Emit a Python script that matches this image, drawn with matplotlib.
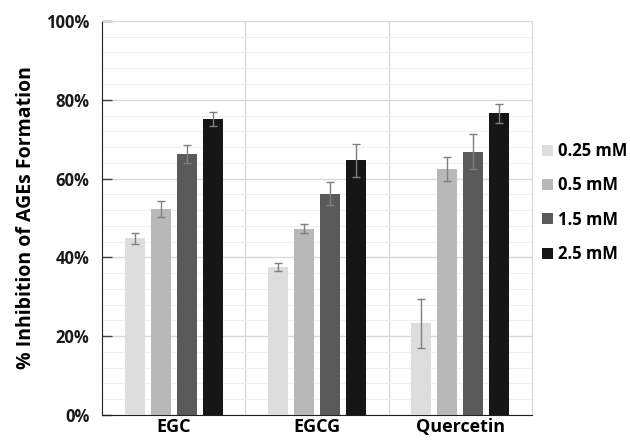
import matplotlib
matplotlib.use("Agg")
import matplotlib.pyplot as plt
import numpy as np
from matplotlib.ticker import MultipleLocator, FuncFormatter
from matplotlib.patches import Patch

categories = ["EGC", "EGCG", "Quercetin"]
series = ["0.25 mM", "0.5 mM", "1.5 mM", "2.5 mM"]
values = {
    "0.25 mM": [44.8, 37.6, 23.3],
    "0.5 mM": [52.2, 47.3, 62.4],
    "1.5 mM": [66.2, 56.2, 66.8],
    "2.5 mM": [75.1, 64.6, 76.6],
}
errors = {
    "0.25 mM": [1.4, 1.1, 6.2],
    "0.5 mM": [2.0, 1.2, 3.1],
    "1.5 mM": [2.3, 2.9, 4.4],
    "2.5 mM": [1.7, 4.2, 2.4],
}
colors = ["#dcdddc", "#b8b8b8", "#5a5a5a", "#161616"]

plt.rcParams['font.family'] = ['Open Sans', 'DejaVu Sans']
fig = plt.figure(figsize=(6.3, 4.46), dpi=100)
ax = fig.add_axes([0.162, 0.0695, 0.682, 0.8835])

x = np.arange(len(categories))
width = 0.14
pitch = 0.182
for i, s in enumerate(series):
    off = (i - 1.5) * pitch
    ax.bar(x + off, values[s], width, color=colors[i], zorder=3, label=s)
    ax.errorbar(x + off, values[s], yerr=errors[s], fmt='none', ecolor='#7f7f7f',
                elinewidth=1.0, capsize=3, capthick=1.0, zorder=4)

ax.set_xlim(-0.5, 2.5)
ax.set_ylim(0, 100)
ax.yaxis.set_major_locator(MultipleLocator(20))
ax.yaxis.set_minor_locator(MultipleLocator(4))
ax.yaxis.set_major_formatter(FuncFormatter(lambda v, p: f"{int(v)}%"))
ax.grid(axis='y', which='major', color='#d9d9d9', linewidth=1.0, zorder=0)
ax.grid(axis='y', which='minor', color='#f0f0f0', linewidth=0.8, zorder=0)
for b in [0.5, 1.5]:
    ax.axvline(b, color='#d9d9d9', linewidth=1.0, zorder=0)
ax.set_xticks(x)
ax.set_xticklabels(categories, fontsize=13, fontweight='bold')
ax.tick_params(axis='x', length=0, pad=2)
ax.tick_params(axis='y', which='major', direction='in', length=7, width=1.0, colors='#404040',
               labelcolor='#1a1a1a', labelsize=12, pad=9)
ax.tick_params(axis='y', which='minor', length=0)
for lbl in ax.get_yticklabels():
    lbl.set_fontweight('bold')
ax.spines['left'].set_color('#202020')
ax.spines['bottom'].set_color('#202020')
ax.spines['top'].set_color('#d9d9d9')
ax.spines['right'].set_color('#d9d9d9')
ax.set_ylabel("% Inhibition of AGEs Formation", fontsize=14, fontweight='bold', labelpad=7)

handles = [Patch(facecolor=c, edgecolor='none') for c in colors]
leg = fig.legend(handles, series, loc='center left', bbox_to_anchor=(0.86, 0.546),
                 frameon=False, prop={'weight': 'bold', 'size': 12},
                 handlelength=0.7, handleheight=0.65, handletextpad=0.3, labelspacing=0.98,
                 borderaxespad=0, borderpad=0)

fig.savefig("out.png", dpi=100)
